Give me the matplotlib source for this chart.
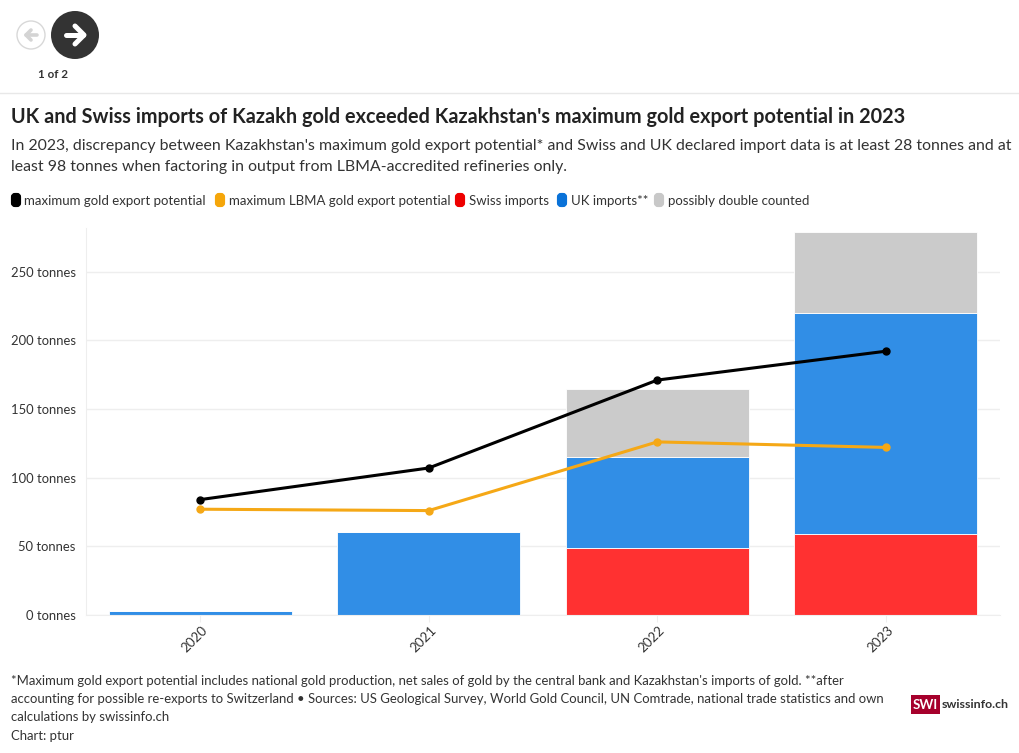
import numpy as np
import matplotlib
matplotlib.use("Agg")
import matplotlib.pyplot as plt
from matplotlib.patches import Circle, FancyBboxPatch, Rectangle
from matplotlib.transforms import ScaledTranslation

plt.rcParams["font.family"] = ["Lato", "DejaVu Sans"]

years = ["2020", "2021", "2022", "2023"]
swiss_imports = [0, 0, 49, 59]
uk_imports = [3, 60.5, 66, 161]
double_counted = [0, 0, 49.5, 58.5]
max_export = [84, 107, 171, 192]
max_lbma = [77, 76, 126, 122]
y_ticks = [0, 50, 100, 150, 200, 250]

title = "UK and Swiss imports of Kazakh gold exceeded Kazakhstan's maximum gold export potential in 2023"
subtitle = [
    "In 2023, discrepancy between Kazakhstan's maximum gold export potential* and Swiss and UK declared import data is at least 28 tonnes and at",
    "least 98 tonnes when factoring in output from LBMA-accredited refineries only.",
]
footer = [
    "*Maximum gold export potential includes national gold production, net sales of gold by the central bank and Kazakhstan's imports of gold. **after",
    "accounting for possible re-exports to Switzerland • Sources: US Geological Survey, World Gold Council, UN Comtrade, national trade statistics and own",
    "calculations by swissinfo.ch",
    "Chart: ptur",
]
legend_items = [
    ("maximum gold export potential", "#000000", 11, 24),
    ("maximum LBMA gold export potential", "#f5a60a", 215, 229),
    ("Swiss imports", "#ee0000", 455, 469),
    ("UK imports**", "#0a72d8", 557, 571),
    ("possibly double counted", "#c8c8c8", 654, 668),
]

W, H = 1020, 753
TEXT = "#333333"

fig = plt.figure(figsize=(W / 100, H / 100), dpi=100)

# overlay in pixel coordinates for header, legend, footer
page = fig.add_axes([0, 0, 1, 1])
page.set_xlim(0, W)
page.set_ylim(H, 0)
page.axis("off")

page.add_patch(Circle((31, 35), 14, facecolor="white", edgecolor="#d8d8d8", lw=1))
page.plot([37, 26], [35, 35], color="#d4d4d4", lw=2.6, solid_capstyle="round")
page.plot([31, 26, 31], [30, 35, 40], color="#d4d4d4", lw=2.6, solid_capstyle="round", solid_joinstyle="round")
page.add_patch(Circle((75, 35), 24, facecolor="#333333", edgecolor="none"))
page.plot([66, 83], [35, 35], color="white", lw=3.6, solid_capstyle="round")
page.plot([75, 84, 75], [26, 35, 44], color="white", lw=3.6, solid_capstyle="round", solid_joinstyle="round")
page.text(53, 74, "1 of 2", ha="center", va="center", fontsize=8.4, fontweight="bold", color=TEXT)
page.plot([0, W], [92.5, 92.5], color="#e8e8e8", lw=1)

page.text(11, 117, title, va="center", fontsize=14.28, fontweight="bold", color="#222222")
page.text(11, 146, subtitle[0], va="center", fontsize=11.4, color=TEXT)
page.text(11, 167, subtitle[1], va="center", fontsize=11.4, color=TEXT)

for label, color, x_box, x_text in legend_items:
    page.add_patch(FancyBboxPatch((x_box + 2, 195), 6, 10, boxstyle="round,pad=0,rounding_size=2",
                                  mutation_aspect=1, facecolor=color, edgecolor=color, lw=3))
    page.text(x_text, 201, label, va="center", fontsize=9.55, color=TEXT)

for i, line in enumerate(footer):
    page.text(11, 681 + i * 18.2, line, va="center", fontsize=9.47, color=TEXT)

page.add_patch(Rectangle((911, 695), 29, 19, facecolor="#a6002c", edgecolor="none"))
page.text(925.5, 705, "SWI", ha="center", va="center", fontsize=9.5, fontweight="bold", color="white")
page.text(942, 705, "swissinfo.ch", va="center", fontsize=8.9, fontweight="bold", color="#333333")

# chart area
ax = fig.add_axes([86 / W, 1 - 615 / H, (1000 - 86) / W, (615 - 228) / H])
x = np.arange(len(years))
swiss = np.array(swiss_imports)
uk = np.array(uk_imports)
grey = np.array(double_counted)

bar_w = 0.8
ax.bar(x, swiss, bar_w, color="#ff3131", edgecolor="white", linewidth=0.6, zorder=2)
ax.bar(x, uk, bar_w, bottom=swiss, color="#318ee6", edgecolor="white", linewidth=0.6, zorder=2)
ax.bar(x, grey, bar_w, bottom=swiss + uk, color="#cbcbcb", edgecolor="white", linewidth=0.6, zorder=2)

ax.plot(x, max_export, color="#000000", lw=2.2, marker="o", ms=5, zorder=3)
ax.plot(x, max_lbma, color="#f5a816", lw=2.2, marker="o", ms=5, zorder=3)

ax.set_xlim(-0.5, 3.5)
ax.set_ylim(0, 281.7)
ax.set_yticks(y_ticks)
ax.set_yticklabels([f"{v} tonnes" for v in y_ticks], fontsize=9.35, color=TEXT)
ax.set_xticks(x)
ax.set_xticklabels(years, rotation=45, ha="right", va="center", rotation_mode="anchor", fontsize=9.6, color=TEXT)
ax.grid(axis="y", color="#eeeeee", lw=1, zorder=0)
ax.set_axisbelow(True)
ax.tick_params(axis="y", length=0, pad=7.5)
ax.tick_params(axis="x", length=5, color="#eeeeee", pad=4.4)
# tick_params resets the label transform, so the nudge has to come after it
shift = ScaledTranslation(5.5 / 100, 0, fig.dpi_scale_trans)
for lab in ax.get_xticklabels():
    lab.set_transform(lab.get_transform() + shift)
for side in ["top", "right"]:
    ax.spines[side].set_visible(False)
ax.spines["left"].set_color("#eeeeee")
ax.spines["bottom"].set_color("#eeeeee")
ax.patch.set_alpha(0)

fig.savefig("out.png", dpi=100)
